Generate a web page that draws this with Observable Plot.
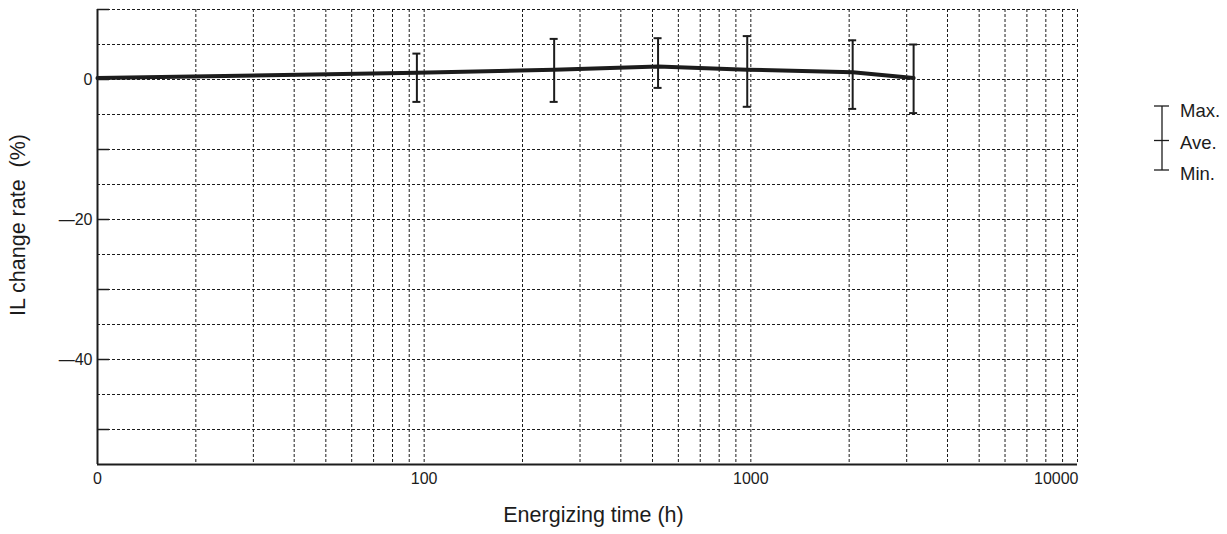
<!DOCTYPE html>
<html>
<head>
<meta charset="utf-8">
<script src="https://cdn.jsdelivr.net/npm/d3@7"></script>
<script src="https://cdn.jsdelivr.net/npm/@observablehq/plot@0.6"></script>
<style>
  html, body { margin: 0; padding: 0; background: #fff; }
  #wrap { position: relative; width: 1227px; height: 534px; font-family: "Liberation Sans", Arial, Helvetica, sans-serif; }
  #legend { position: absolute; left: 1150px; top: 100px; }
  #legend text { font-family: "Liberation Sans", Arial, Helvetica, sans-serif; }
</style>
</head>
<body>
<div id="wrap"></div>
<script>
// ---- data ----
const lineTimes = [10, 95, 250, 520, 975, 2050, 3150];
const lineAvg   = [0.2, 0.95, 1.4, 1.85, 1.4, 1.05, 0.2];

const barTimes = [95, 250, 520, 975, 2050, 3150];
const barMax   = [3.7, 5.8, 5.9, 6.2, 5.6, 5.0];
const barMin   = [-3.2, -3.2, -1.2, -3.9, -4.2, -4.8];

const xTickValues = [10, 100, 1000];
const xTickLabels = ["0", "100", "1000"];
const xLastTick = [10000];
const xLastLabel = ["10000"];
const xGridValues = [20, 30, 40, 50, 60, 70, 80, 90, 100,
                     200, 300, 400, 500, 600, 700, 800, 900, 1000,
                     2000, 3000, 4000, 5000, 6000, 7000, 8000, 9000, 10000];
const yLabelTicks = [0, -20, -40];
const yTickLabels = ["0", "\u201420", "\u201440"];
const yTickMarks = [10, 0, -10, -20, -30, -40, -50];
const yGridValues = [10, 5, 0, -5, -10, -15, -20, -25, -30, -35, -40, -45, -50];

const xLabel = "Energizing time (h)";
const yLabel = "IL change rate  (%)";
const legendLabels = ["Max.", "Ave.", "Min."];

// ---- build ----
const lineData = lineTimes.map((t, i) => ({t, v: lineAvg[i]}));
const bars = barTimes.map((t, i) => ({t, max: barMax[i], min: barMin[i]}));
const ink = "#1c1c1c";
const grid = {stroke: ink, strokeOpacity: 1, strokeWidth: 1, strokeDasharray: "3,2"};
const W = 1227, H = 534, mL = 97, mR = 150, mT = 9, mB = 70;

const chart = Plot.plot({
  width: W,
  height: H,
  marginLeft: mL,
  marginRight: mR,
  marginTop: mT,
  marginBottom: mB,
  style: {fontFamily: '"Liberation Sans", Arial, Helvetica, sans-serif', fontSize: "16px", color: ink, background: "#fff"},
  x: {type: "log", domain: [10, 10000], axis: null},
  y: {domain: [-55, 10], axis: null},
  marks: [
    Plot.gridY(yGridValues, grid),
    Plot.gridX(xGridValues, grid),
    Plot.ruleY([10], grid),
    Plot.tickY(yTickMarks, {stroke: ink, strokeWidth: 1.5, insetRight: W - mL - mR - 12}),
    Plot.ruleX([10], {stroke: ink, strokeWidth: 2}),
    Plot.ruleY([-55], {stroke: ink, strokeWidth: 2}),
    // y tick labels
    Plot.text(yLabelTicks, {y: d => d, text: (d, i) => yTickLabels[i], frameAnchor: "left", textAnchor: "end", dx: -5, fontSize: 16, fill: ink}),
    // x tick labels
    Plot.text(xTickValues, {x: d => d, text: (d, i) => xTickLabels[i], frameAnchor: "bottom", textAnchor: "middle", dy: 19, fontSize: 16, fill: ink}),
    Plot.text(xLastTick, {x: d => d, text: (d, i) => xLastLabel[i], frameAnchor: "bottom", textAnchor: "end", dx: 1, dy: 19, fontSize: 16, fill: ink}),
    // axis titles
    Plot.text([yLabel], {frameAnchor: "left", textAnchor: "middle", rotate: -90, dx: -79, dy: -12, fontSize: 21.5, fill: ink}),
    Plot.text([xLabel], {frameAnchor: "bottom", textAnchor: "middle", dx: 6, dy: 57, fontSize: 21.5, fill: ink}),
    // data
    Plot.line(lineData, {x: "t", y: "v", stroke: ink, strokeWidth: 4}),
    Plot.ruleX(bars, {x: "t", y1: "min", y2: "max", stroke: ink, strokeWidth: 2}),
    Plot.ruleY(bars, {x1: "t", x2: "t", y: "max", stroke: ink, strokeWidth: 2, insetLeft: -4, insetRight: -4}),
    Plot.ruleY(bars, {x1: "t", x2: "t", y: "min", stroke: ink, strokeWidth: 2, insetLeft: -4, insetRight: -4})
  ]
});
document.getElementById("wrap").appendChild(chart);

// legend (overlay at the right)
const leg = d3.select("#wrap").append("svg").attr("id", "legend").attr("width", 77).attr("height", 90);
const lg = leg.append("g").attr("stroke", ink).attr("stroke-width", 1.3);
lg.append("line").attr("x1", 12).attr("x2", 12).attr("y1", 6).attr("y2", 70);
[6, 40.5, 70].forEach(y => lg.append("line").attr("x1", 4).attr("x2", 19).attr("y1", y).attr("y2", y));
legendLabels.forEach((s, i) => leg.append("text").attr("x", 30).attr("y", 17 + i * 31.5)
  .attr("font-size", 18.5).attr("fill", ink).text(s));
</script>
</body>
</html>
